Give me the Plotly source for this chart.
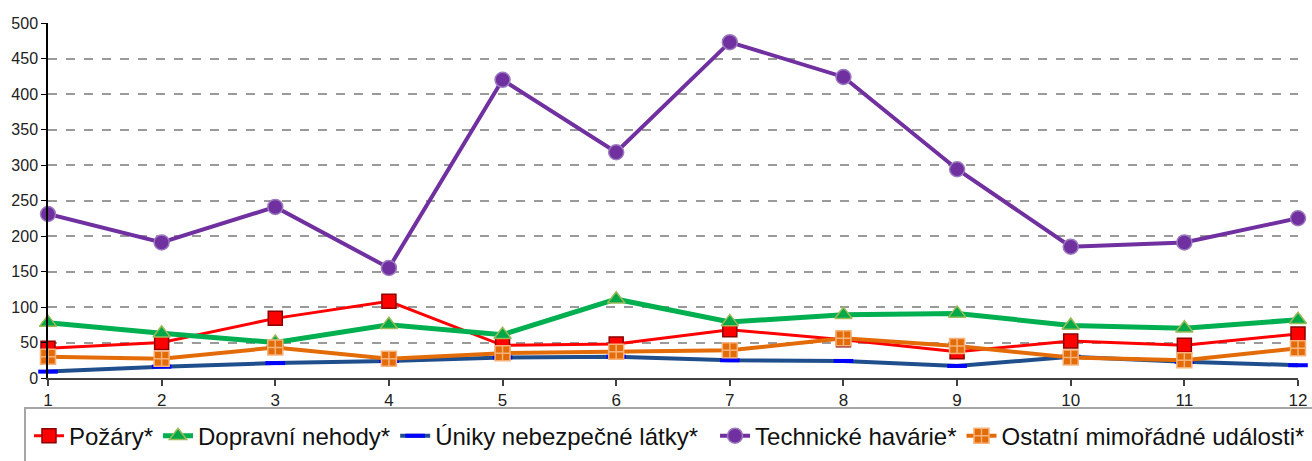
import plotly.graph_objects as go

months = [1, 2, 3, 4, 5, 6, 7, 8, 9, 10, 11, 12]
pozary = [42, 50, 84, 108, 46, 48, 68, 54, 37, 52, 46, 62]
dopravni = [78, 63, 50, 75, 61, 111, 79, 89, 91, 74, 70, 82]
uniky = [9, 16, 21, 24, 29, 30, 25, 24, 17, 30, 23, 18]
technicke = [231, 191, 241, 155, 420, 318, 473, 424, 294, 185, 191, 225]
ostatni = [30, 27, 43, 27, 35, 37, 39, 56, 45, 29, 25, 42]
y_ticks = [0, 50, 100, 150, 200, 250, 300, 350, 400, 450, 500]

fig = go.Figure()

fig.add_trace(go.Scatter(
    x=months, y=pozary, name="Požáry*", mode="lines+markers",
    line=dict(color="#FF0000", width=3),
    marker=dict(symbol="square", size=14, color="#FF0000",
                line=dict(color="#8B0000", width=1.5)),
    cliponaxis=False, legend="legend"))
fig.add_trace(go.Scatter(
    x=months, y=dopravni, name="Dopravní nehody*", mode="lines+markers",
    line=dict(color="#00B050", width=5),
    marker=dict(symbol="triangle-up", size=15, color="#00A848",
                line=dict(color="#9BBB59", width=1.5)),
    cliponaxis=False, legend="legend"))
fig.add_trace(go.Scatter(
    x=months, y=uniky, name="Úniky nebezpečné látky*", mode="lines+markers",
    line=dict(color="#1F4E8C", width=4),
    marker=dict(symbol="line-ew", size=14, color="#0000FF",
                line=dict(color="#0000FF", width=4)),
    cliponaxis=False, legend="legend"))
fig.add_trace(go.Scatter(
    x=months, y=technicke, name="Technické havárie*", mode="lines+markers",
    line=dict(color="#7030A0", width=4),
    marker=dict(symbol="circle", size=15, color="#7030A0",
                line=dict(color="#9B7BBE", width=1.5)),
    cliponaxis=False, legend="legend2"))
fig.add_trace(go.Scatter(
    x=months, y=ostatni, name="Ostatní mimořádné události*", mode="lines+markers",
    line=dict(color="#E36C09", width=4),
    marker=dict(symbol="square-cross", size=15, color="#E36C09",
                line=dict(color="#F6B27A", width=1.5)),
    cliponaxis=False, legend="legend2"))

leg_common = dict(orientation="h", xref="container", yref="container",
                  xanchor="left", y=0.054, yanchor="middle",
                  font=dict(size=24, color="#111111"), bgcolor="rgba(0,0,0,0)",
                  itemwidth=30, tracegroupgap=0)

fig.update_layout(
    width=1312, height=461,
    margin=dict(l=48, r=14, t=23, b=83, autoexpand=False),
    paper_bgcolor="white", plot_bgcolor="white",
    font=dict(family="Liberation Sans, Arial, sans-serif", color="#222222"),
    showlegend=True,
    legend=dict(x=0.0221, **leg_common),
    legend2=dict(x=0.545, **leg_common),
    xaxis=dict(range=[1, 12], tickvals=months, showgrid=False, zeroline=False,
               showline=True, linecolor="#404040", linewidth=1.5,
               ticks="outside", ticklen=6, tickcolor="#404040", tickwidth=1.5,
               automargin=False,
               tickfont=dict(size=17, color="#222222",
                             family="Liberation Sans Narrow, Arial Narrow, sans-serif")),
    yaxis=dict(range=[0, 500], tickvals=y_ticks, showgrid=True,
               gridcolor="#9A9A9A", griddash="dash", gridwidth=1.5,
               zeroline=False, showline=True, linecolor="#000000", linewidth=1.5,
               ticks="outside", ticklen=5, tickcolor="#000000", automargin=False,
               tickfont=dict(size=16, color="#222222")),
    shapes=[dict(type="rect", xref="paper", yref="paper",
                 x0=-0.0184, x1=1.2, y0=-0.0845, y1=-0.5,
                 line=dict(color="#A6A6A6", width=2), fillcolor="rgba(0,0,0,0)",
                 layer="below")],
)

fig.write_html("out.html", config={"displayModeBar": False},
               post_script="document.body.style.margin='0';document.body.style.overflow='hidden';")
